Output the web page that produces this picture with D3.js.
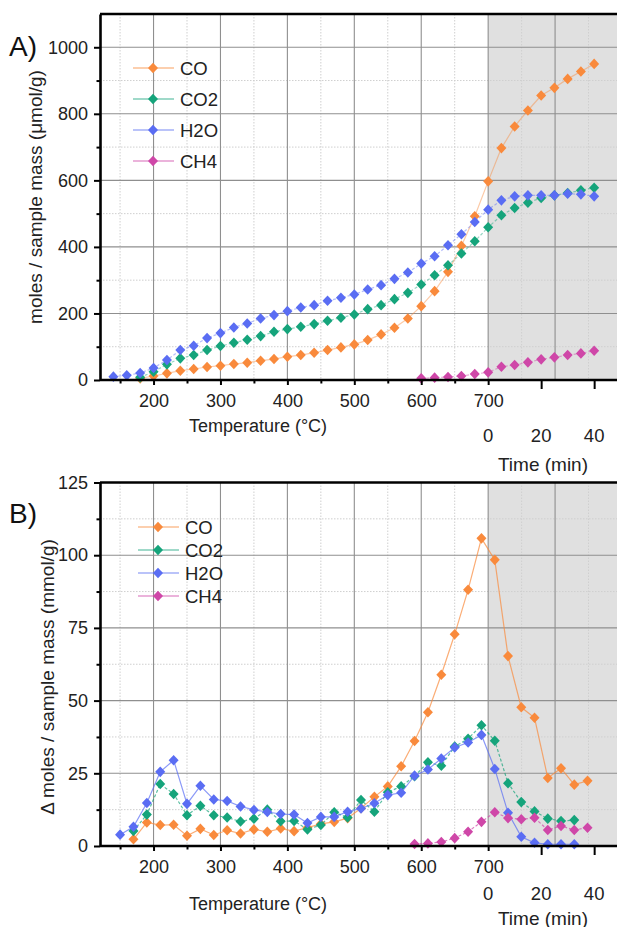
<!DOCTYPE html>
<html>
<head>
<meta charset="utf-8">
<script src="https://cdn.jsdelivr.net/npm/d3@7"></script>
<style>
  body { margin: 0; background: #fff; }
  svg { display: block; font-family: "Liberation Sans", Arial, sans-serif; }
</style>
</head>
<body>
<svg id="chart" width="617" height="927"></svg>
<script>
// ---------- shared x positions ----------
// Panel A: cumulative values, sampled every 20 °C during the ramp, then every 5 min at 700 °C
const tempA = [140, 160, 180, 200, 220, 240, 260, 280, 300, 320, 340, 360, 380, 400,
               420, 440, 460, 480, 500, 520, 540, 560, 580, 600, 620, 640, 660, 680];
const timeA = [0, 5, 10, 15, 20, 25, 30, 35, 40];

// Panel B: increments, plotted at interval midpoints
const tempB = [150, 170, 190, 210, 230, 250, 270, 290, 310, 330, 350, 370, 390, 410,
               430, 450, 470, 490, 510, 530, 550, 570, 590, 610, 630, 650, 670, 690];
const timeB = [2.5, 7.5, 12.5, 17.5, 22.5, 27.5, 32.5, 37.5];

// ---------- panel A series (µmol/g) ----------
const coA_temp  = [null, null, 5, 12, 20, 28, 33, 39, 43, 48, 52, 58, 63, 70,
                   75, 82, 90, 98, 107, 120, 137, 157, 185, 222, 267, 325, 403, 492];
const coA_time  = [597, 697, 762, 810, 855, 878, 905, 927, 950];
const co2A_temp = [null, null, 8, 25, 47, 65, 75, 90, 102, 112, 121, 132, 145, 153,
                   160, 168, 178, 187, 197, 213, 225, 243, 262, 287, 315, 345, 380, 417];
const co2A_time = [459, 495, 517, 533, 547, 555, 562, 570, 578];
const h2oA_temp = [10, 14, 21, 36, 60, 90, 103, 126, 141, 158, 170, 185, 195, 207,
                   218, 225, 238, 247, 257, 272, 285, 304, 323, 350, 372, 405, 438, 475];
const h2oA_time = [512, 540, 552, 555, 555, 555, 560, 558, 552];
const ch4A_temp = [null, null, null, null, null, null, null, null, null, null, null, null, null, null,
                   null, null, null, null, null, null, null, null, null, 5, 7, 9, 12, 18];
const ch4A_time = [23, 40, 45, 53, 62, 68, 75, 80, 88];

// ---------- panel B series (mmol/g) ----------
const coB_temp  = [null, 2.3, 8.1, 7.2, 7.3, 3.5, 5.9, 3.8, 5.4, 4.3, 5.7, 4.9, 6.0, 5.1,
                   6.3, 7.6, 8.3, 9.6, 13.0, 16.9, 20.5, 27.4, 36.1, 46.0, 58.9, 72.8, 88.1, 105.8];
const coB_time  = [98.4, 65.3, 47.7, 44.1, 23.4, 26.7, 21.1, 22.4];
const co2B_temp = [null, 5.2, 10.8, 21.3, 17.9, 10.6, 13.8, 10.6, 9.8, 8.4, 9.4, 12.5, 8.5, 8.6,
                   5.7, 7.2, 11.6, 9.8, 15.8, 11.8, 18.5, 20.5, 24.0, 28.8, 27.6, 34.2, 36.9, 41.5];
const co2B_time = [36.2, 21.6, 15.1, 11.9, 9.4, 8.6, 8.9, null];
const h2oB_temp = [3.9, 6.6, 14.8, 25.5, 29.5, 14.5, 20.7, 16.0, 15.5, 13.6, 12.4, 11.7, 11.0, 10.8,
                   7.9, 10.0, 10.0, 11.8, 12.9, 14.7, 17.5, 18.3, 24.2, 26.3, 30.1, 33.9, 35.6, 38.2];
const h2oB_time = [26.5, 11.4, 3.2, 1.1, 0.6, 0.6, 0.6, null];
const ch4B_temp = [null, null, null, null, null, null, null, null, null, null, null, null, null, null,
                   null, null, null, null, null, null, null, null, 0.7, 0.9, 1.4, 2.7, 4.9, 8.3];
const ch4B_time = [11.6, 9.6, 9.2, 9.7, 5.5, 6.9, 5.5, 6.3];

// ---------- axis ticks ----------
const tempTicks = [200, 300, 400, 500, 600, 700];
const tempMinorTicks = [150, 250, 350, 450, 550, 650];
const tempGrid = [200, 300, 400, 500, 600, 700, 800];
const tempMinorGrid = [150, 250, 350, 450, 550, 650, 750, 850];
const timeTicks = [0, 20, 40];
const yTicksA = [0, 200, 400, 600, 800, 1000];
const yMinorA = [100, 300, 500, 700, 900];
const yTicksB = [0, 25, 50, 75, 100, 125];
const yMinorB = [12.5, 37.5, 62.5, 87.5, 112.5];

const gases = ["CO", "CO2", "H2O", "CH4"];
const colors = { CO: "#f98a3c", CO2: "#15a47b", H2O: "#5a6df3", CH4: "#cf47a8" };

// ---------- layout ----------
const W = 617;
const left = 100;
const xT = d3.scaleLinear().domain([120, 900]).range([left, 622]);
const xTime = d3.scaleLinear().domain([0, 40]).range([xT(700), xT(700) + 106]);

const svg = d3.select("#chart");
const diamond = "M0,-5.3L5,0L0,5.3L-5,0Z";

function buildPoints(temps, tVals, times, hVals) {
  const pts = [];
  temps.forEach((t, i) => { if (tVals[i] != null) pts.push({ x: xT(t), v: tVals[i] }); });
  times.forEach((t, i) => { if (hVals[i] != null) pts.push({ x: xTime(t), v: hVals[i] }); });
  return pts;
}

function drawPanel(p) {
  const g = svg.append("g");
  const y = d3.scaleLinear().domain(p.yDomain).range([p.yBottom, p.yTop]);

  // isothermal hold region
  g.append("rect")
    .attr("x", xT(700)).attr("y", p.yTop)
    .attr("width", W - xT(700)).attr("height", p.yBottom - p.yTop)
    .attr("fill", "#e0e0e0");

  // minor grid
  g.selectAll(null).data(tempMinorGrid).join("line")
    .attr("x1", d => xT(d)).attr("x2", d => xT(d))
    .attr("y1", p.yTop).attr("y2", p.yBottom)
    .attr("stroke", "#cfcfcf").attr("stroke-width", 1).attr("stroke-dasharray", "1.5,1.5");
  g.selectAll(null).data(p.yMinor).join("line")
    .attr("x1", left).attr("x2", W)
    .attr("y1", d => y(d)).attr("y2", d => y(d))
    .attr("stroke", "#cfcfcf").attr("stroke-width", 1).attr("stroke-dasharray", "1.5,1.5");

  // major grid
  g.selectAll(null).data(tempGrid).join("line")
    .attr("x1", d => xT(d)).attr("x2", d => xT(d))
    .attr("y1", p.yTop).attr("y2", p.yBottom)
    .attr("stroke", "#8f8f8f").attr("stroke-width", 1.1);
  g.selectAll(null).data(p.yTicks.filter(d => d > p.yDomain[0] && d < p.yDomain[1])).join("line")
    .attr("x1", left).attr("x2", W)
    .attr("y1", d => y(d)).attr("y2", d => y(d))
    .attr("stroke", "#8f8f8f").attr("stroke-width", 1.1);

  // series
  const line = d3.line().x(d => d.x).y(d => y(d.v));
  p.series.forEach(s => {
    const pts = buildPoints(p.temps, s.tv, p.times, s.hv);
    g.append("path").attr("d", line(pts))
      .attr("fill", "none").attr("stroke", colors[s.name])
      .attr("stroke-opacity", p.lineOpacity).attr("stroke-width", 1.2)
      .attr("stroke-dasharray", s.dash || null);
    g.selectAll(null).data(pts).join("path")
      .attr("d", diamond)
      .attr("transform", d => `translate(${d.x},${y(d.v)})`)
      .attr("fill", colors[s.name]);
  });

  // frame: top border, left and bottom axes
  g.append("line").attr("x1", left).attr("x2", W).attr("y1", p.yTop).attr("y2", p.yTop)
    .attr("stroke", "#000").attr("stroke-width", 2.6);

  const yAxis = g.append("g").attr("transform", `translate(${left},0)`)
    .call(d3.axisLeft(y).tickValues(p.yTicks).tickFormat(d3.format("d"))
      .tickSize(6).tickPadding(6).tickSizeOuter(0));
  g.append("g").attr("transform", `translate(${left},0)`)
    .call(d3.axisLeft(y).tickValues(p.yMinor).tickSize(3.5).tickFormat("").tickSizeOuter(0))
    .select(".domain").remove();

  const xAxis = g.append("g").attr("transform", `translate(0,${p.yBottom})`)
    .call(d3.axisBottom(xT).tickValues(tempTicks).tickFormat(d3.format("d"))
      .tickSize(5).tickPadding(9).tickSizeOuter(0));
  xAxis.select(".domain").attr("d", `M${left},0H${W}`);
  g.append("g").attr("transform", `translate(0,${p.yBottom})`)
    .call(d3.axisBottom(xT).tickValues(tempMinorTicks).tickSize(3.5).tickFormat("").tickSizeOuter(0))
    .select(".domain").remove();
  g.append("g").attr("transform", `translate(0,${p.yBottom})`)
    .call(d3.axisBottom(xTime).tickValues(timeTicks.filter(d => d > 0)).tickSize(9).tickFormat("").tickSizeOuter(0))
    .select(".domain").remove();

  [yAxis, xAxis].forEach(a => {
    a.select(".domain").attr("stroke-width", 2.6);
    a.selectAll("text").attr("font-size", 18).attr("fill", "#222")
      .attr("font-family", "Liberation Sans, Arial, sans-serif");
  });
  g.selectAll(".tick line").attr("stroke-width", 2);

  // time labels
  g.selectAll(null).data(timeTicks).join("text")
    .attr("x", d => xTime(d)).attr("y", p.timeLabelY)
    .attr("text-anchor", "middle").attr("dominant-baseline", "central")
    .attr("font-size", 18.5).attr("fill", "#222").text(d => d);

  // axis titles
  g.append("text").attr("x", 258).attr("y", p.tempTitleY)
    .attr("text-anchor", "middle").attr("dominant-baseline", "central")
    .attr("font-size", 18).attr("fill", "#222").text("Temperature (°C)");
  g.append("text").attr("x", 543).attr("y", p.timeTitleY)
    .attr("text-anchor", "middle").attr("dominant-baseline", "central")
    .attr("font-size", 19).attr("fill", "#222").text("Time (min)");
  g.append("text")
    .attr("transform", `translate(${p.yTitleX},${p.yTitleY}) rotate(-90)`)
    .attr("text-anchor", "middle").attr("dominant-baseline", "central")
    .attr("font-size", 19).attr("fill", "#222").text(p.yTitle);

  // panel letter
  g.append("text").attr("x", 9).attr("y", p.letterY)
    .attr("dominant-baseline", "central")
    .attr("font-size", 28).attr("fill", "#111").text(p.letter);

  // legend
  const lg = g.append("g").attr("transform", `translate(${p.legendX},0)`);
  gases.forEach((name, i) => {
    const ly = p.legendY[i];
    lg.append("line").attr("x1", -20).attr("x2", 21).attr("y1", ly).attr("y2", ly)
      .attr("stroke", colors[name]).attr("stroke-opacity", 0.55).attr("stroke-width", 1.3);
    lg.append("path").attr("d", diamond).attr("transform", `translate(0,${ly})`)
      .attr("fill", colors[name]);
    lg.append("text").attr("x", 27).attr("y", ly)
      .attr("dominant-baseline", "central")
      .attr("font-size", 18.5).attr("fill", "#222").text(name);
  });
}

drawPanel({
  letter: "A)", letterY: 46,
  yTop: 14, yBottom: 380, yDomain: [0, 1100],
  yTicks: yTicksA, yMinor: yMinorA,
  temps: tempA, times: timeA,
  lineOpacity: 0.45,
  series: [
    { name: "CO",  tv: coA_temp,  hv: coA_time },
    { name: "CO2", tv: co2A_temp, hv: co2A_time, dash: "3,2" },
    { name: "H2O", tv: h2oA_temp, hv: h2oA_time, dash: "3,2" },
    { name: "CH4", tv: ch4A_temp, hv: ch4A_time, dash: "3,2" }
  ],
  timeLabelY: 435, tempTitleY: 426, timeTitleY: 464,
  yTitle: "moles / sample mass (μmol/g)", yTitleX: 35, yTitleY: 197,
  legendX: 153, legendY: [68, 99, 130, 161]
});

drawPanel({
  letter: "B)", letterY: 513,
  yTop: 482.5, yBottom: 846, yDomain: [0, 125],
  yTicks: yTicksB, yMinor: yMinorB,
  temps: tempB, times: timeB,
  lineOpacity: 0.7,
  series: [
    { name: "CO",  tv: coB_temp,  hv: coB_time },
    { name: "CO2", tv: co2B_temp, hv: co2B_time, dash: "3,2" },
    { name: "H2O", tv: h2oB_temp, hv: h2oB_time },
    { name: "CH4", tv: ch4B_temp, hv: ch4B_time, dash: "3,2" }
  ],
  timeLabelY: 893, tempTitleY: 904, timeTitleY: 918,
  yTitle: "Δ moles / sample mass (mmol/g)", yTitleX: 47, yTitleY: 677,
  legendX: 158, legendY: [527, 550, 573, 596]
});
</script>
</body>
</html>
